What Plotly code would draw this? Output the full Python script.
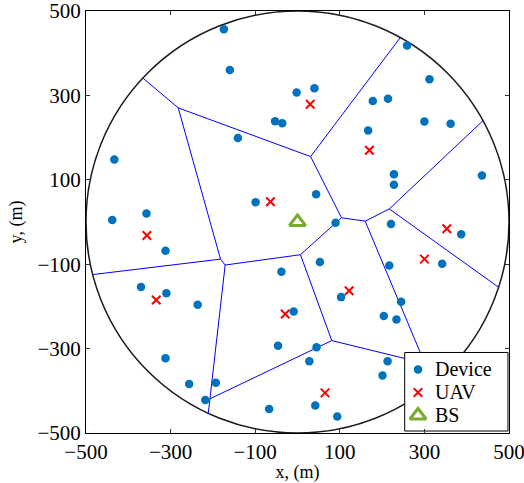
import plotly.graph_objects as go

# Ground devices (m)
device_x = [-174, -160, -141, -433, -438, -357, -99, 259, 312, -2, 40, 178, 214, -53, -36,
            300, 362, 167, 228, 228, 436, 44, 90, 221, 387, -312, -370, -310, -236, -312,
            -256, -193, -218, 53, -38, 217, 342, 103, 245, -9, 204, 234, -46, 45, 28,
            213, 201, 42, 94, -67]
device_y = [457, 360, 199, 148, 5, 20, 47, 418, 338, 307, 317, 287, 292, 239, 234,
            238, 233, 217, 113, 88, 110, 66, -2, -5, -29, -68, -154, -169, -196, -323,
            -384, -381, -422, -95, -118, -103, -99, -178, -189, -212, -223, -231, -293, -297, -330,
            -330, -364, -435, -461, -443]

# UAV positions (m)
uav_x = [30, 170, -64, -356, 353, 300, 122, -334, -29, 65]
uav_y = [279, 170, 48, -32, -16, -88, -163, -185, -218, -405]

# Base station
bs_x = [0]
bs_y = [0]

# Cell boundaries: vertices and the edges joining them
vert_x = [-365.5, -282, 31, 243, 104, 160, 217, 438.4, 475.5, 7,
          -171, -182, -484.2, -207, -211, 81, 301, 342]
vert_y = [341, 270.5, 155, 437, 10, 2, 31, 240, -154.7, -77.5,
          -102, -88, -124.6, -419, -453.5, -281, -335, -365]
edges = [(0, 1), (1, 2), (2, 3), (2, 4), (1, 11), (4, 5), (4, 9), (5, 6), (6, 7), (6, 8),
         (5, 16), (11, 12), (11, 10), (10, 9), (10, 13), (13, 14), (13, 15), (9, 15),
         (15, 16), (16, 17)]

# Coverage radius (m)
radius = 500

tick_vals = [-500, -300, -100, 100, 300, 500]

legend_names = ["Device", "UAV", "BS"]

serif = "Liberation Serif"

DEVICE_STYLE = dict(color="#0072BD", size=8.5, line=dict(width=0))
UAV_STYLE = dict(symbol="x-thin", color="#ff0000", size=8.5,
                 line=dict(color="#ff0000", width=2))
BS_STYLE = dict(symbol="triangle-up-open", color="#77AC30", size=14,
                line=dict(color="#77AC30", width=3))

edge_x, edge_y = [], []
for a, b in edges:
    edge_x += [vert_x[a], vert_x[b], None]
    edge_y += [vert_y[a], vert_y[b], None]

fig = go.Figure()

fig.add_trace(go.Scatter(
    x=edge_x, y=edge_y, mode="lines",
    line=dict(color="#0000ff", width=1),
    showlegend=False, hoverinfo="skip",
))
fig.add_trace(go.Scatter(x=device_x, y=device_y, mode="markers", name="Device",
                         marker=DEVICE_STYLE, showlegend=False))
fig.add_trace(go.Scatter(x=uav_x, y=uav_y, mode="markers", name="UAV",
                         marker=UAV_STYLE, showlegend=False))
fig.add_trace(go.Scatter(x=bs_x, y=bs_y, mode="markers", name="BS",
                         marker=BS_STYLE, showlegend=False))

fig.add_shape(
    type="circle", xref="x", yref="y",
    x0=-radius, y0=-radius, x1=radius, y1=radius,
    line=dict(color="#1a1a1a", width=1.5), layer="below",
)

# Legend box in the lower-right corner, drawn on a unit overlay axis
box_x0, box_x1, box_y0, box_y1 = 0.7534, 0.9976, 0.0047, 0.1908
key_x, text_x = 0.7849, 0.8227
row_y = [0.1505, 0.0960, 0.0415]

fig.add_trace(go.Scatter(
    x=[box_x0, box_x1, box_x1, box_x0, box_x0],
    y=[box_y0, box_y0, box_y1, box_y1, box_y0],
    mode="lines", fill="toself", fillcolor="white",
    line=dict(color="black", width=1),
    xaxis="x2", yaxis="y2", showlegend=False, hoverinfo="skip",
))
for style, yy in zip([DEVICE_STYLE, UAV_STYLE, BS_STYLE], row_y):
    fig.add_trace(go.Scatter(x=[key_x], y=[yy], mode="markers", marker=style,
                             xaxis="x2", yaxis="y2", showlegend=False, hoverinfo="skip"))
for name, yy in zip(legend_names, row_y):
    fig.add_annotation(x=text_x, y=yy, xref="paper", yref="paper", text=name,
                       showarrow=False, xanchor="left", yanchor="middle", borderpad=0,
                       font=dict(family=serif, size=20, color="black"))

axis_common = dict(
    range=[-500, 500],
    tickmode="array", tickvals=tick_vals,
    ticks="inside", ticklen=4, tickcolor="#333333", tickwidth=1,
    showline=True, linecolor="black", linewidth=1, mirror="ticks",
    showgrid=False, zeroline=False, automargin=False,
    ticklabeloverflow="allow",
    tickfont=dict(family=serif, size=21, color="black"),
)

fig.update_xaxes(
    title=dict(text="x, (m)", font=dict(family=serif, size=18, color="black"), standoff=4),
    **axis_common,
)
fig.update_yaxes(
    title=dict(text="y, (m)", font=dict(family=serif, size=18, color="black"), standoff=10),
    **axis_common,
)

fig.update_layout(
    width=524, height=483,
    margin=dict(l=86, r=15, t=11, b=50),
    paper_bgcolor="white", plot_bgcolor="white",
    font=dict(family=serif, color="black"),
    showlegend=False,
    xaxis2=dict(overlaying="x", range=[0, 1], visible=False, fixedrange=True),
    yaxis2=dict(overlaying="y", range=[0, 1], visible=False, fixedrange=True),
)

fig.write_html("out.html")
